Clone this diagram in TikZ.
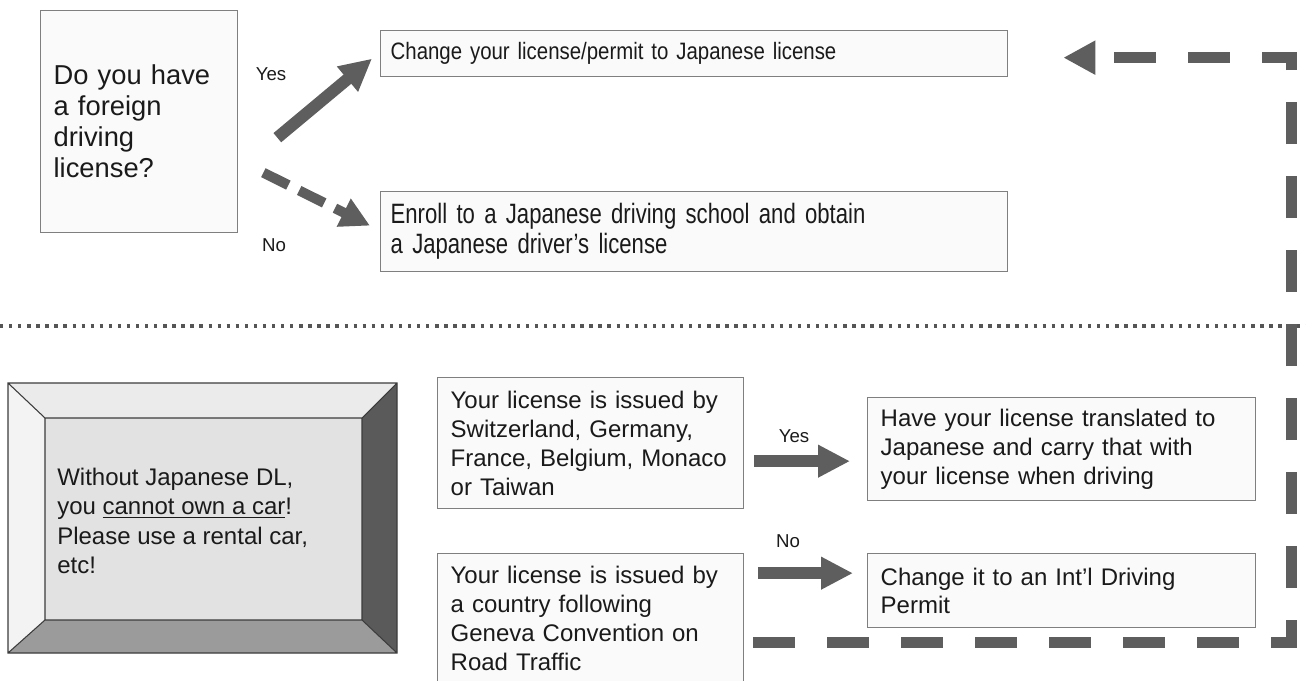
\documentclass[tikz,border=0pt]{standalone}
\usepackage{fontspec}
\setmainfont{Liberation Sans}
\newfontfamily\narrowa[FakeStretch=0.86]{Liberation Sans}
\newfontfamily\narrowb[FakeStretch=0.79]{Liberation Sans}
\usetikzlibrary{arrows.meta,calc}

\definecolor{arrowgray}{HTML}{5E5E5E}
\definecolor{boxline}{HTML}{7F7F7F}
\definecolor{boxfill}{HTML}{FAFAFA}
\definecolor{textcol}{HTML}{1A1A1A}
\definecolor{dotcol}{HTML}{555555}
\definecolor{bevtop}{HTML}{EBEBEB}
\definecolor{bevleft}{HTML}{F3F3F3}
\definecolor{bevright}{HTML}{5A5A5A}
\definecolor{bevbottom}{HTML}{9B9B9B}
\definecolor{bevface}{HTML}{E2E2E2}
\definecolor{bevline}{HTML}{3C3C3C}

\begin{document}
\begin{tikzpicture}[x=0.75pt,y=-0.75pt,
        box/.style={draw=boxline, line width=1pt, fill=boxfill,
            anchor=north west, align=left, text=textcol, inner ysep=0pt},
        lbl/.style={font=\fontsize{14}{16}\selectfont, text=textcol, inner sep=0pt},
        bigarrow/.style={draw=arrowgray, line width=9pt,
            -{Triangle[length=24pt,width=23pt]}},
        dasharrow/.style={draw=arrowgray, line width=8pt,
            dash pattern=on 31.5pt off 24pt,
            -{Triangle[length=24pt,width=24pt]}},
        smalldash/.style={draw=arrowgray, line width=7.5pt,
            dash pattern=on 21pt off 9pt,
            -{Triangle[length=22pt,width=22pt]}}]

    \useasboundingbox (0,0) rectangle (1306,681);

    % upper part
    \node[box, inner xsep=9.75pt, text width=128.25pt, minimum height=166.5pt,
        font=\fontsize{20.5}{23.25}\selectfont] (q) at (40,10)
        {Do you have\\a foreign\\driving\\license?};
    \node[box, inner xsep=7.5pt, text width=455.25pt, minimum height=34.5pt,
        font=\narrowa\fontsize{17.8}{20}\selectfont] (change) at (380,30)
        {Change your license/permit to Japanese license};
    \node[box, inner xsep=7.5pt, text width=455.25pt, minimum height=60pt,
        font=\narrowb\fontsize{21}{22.5}\selectfont] (enroll) at (380,191)
        {Enroll to a Japanese driving school and obtain\\a Japanese driver’s license};
    \node[lbl] (yes1) at (271,74) {Yes};
    \node[lbl] (no1) at (274,245) {No};

    \draw[bigarrow] ($(q.east)+(39,16)$) -- ($(change.west)+(-8,5)$);
    \draw[smalldash] ($(q.east)+(25,51)$) -- ($(enroll.west)+(-10,-6)$);

    \draw[dotcol, line width=2.5pt, dash pattern=on 2.5pt off 4.3pt]
        (0,326) -- (1306,326);

    % lower part
    \fill[bevtop] (8,383) -- (397,383) -- (362,418) -- (45,418) -- cycle;
    \fill[bevleft] (8,383) -- (45,418) -- (45,620) -- (8,653) -- cycle;
    \fill[bevright] (397,383) -- (397,653) -- (362,620) -- (362,418) -- cycle;
    \fill[bevbottom] (8,653) -- (397,653) -- (362,620) -- (45,620) -- cycle;
    \fill[bevface] (45,418) rectangle (362,620);
    \draw[bevline, line width=0.8pt] (8,383) rectangle (397,653)
        (45,418) rectangle (362,620)
        (8,383) -- (45,418) (397,383) -- (362,418)
        (8,653) -- (45,620) (397,653) -- (362,620);
    \node[anchor=west, align=left, text=textcol, inner sep=0pt,
        font=\fontsize{18}{22}\selectfont] (warn) at (57,521)
        {Without Japanese DL,\\you \underline{cannot own a car}!\\Please use a rental car,\\etc!};

    \node[box, inner xsep=9.75pt, text width=210pt, minimum height=98.25pt,
        font=\fontsize{18}{21.75}\selectfont] (y1) at (437,377)
        {Your license is issued by\\Switzerland, Germany,\\France, Belgium, Monaco\\or Taiwan};
    \node[box, inner xsep=9.75pt, text width=210pt, minimum height=96.75pt,
        font=\fontsize{18}{21.75}\selectfont] (n1) at (437,553)
        {Your license is issued by\\a country following\\Geneva Convention on\\Road Traffic};
    \node[box, inner xsep=9.75pt, text width=271.5pt, minimum height=77.25pt,
        font=\fontsize{18}{21.5}\selectfont] (tr) at (867,397)
        {Have your license translated to\\Japanese and carry that with\\your license when driving};
    \node[box, inner xsep=9.75pt, text width=271.5pt, minimum height=55.5pt,
        font=\fontsize{18}{21}\selectfont] (ip) at (867,553)
        {Change it to an Int’l Driving\\Permit};
    \node[lbl] (yes2) at (794,436) {Yes};
    \node[lbl] (no2) at (788,541) {No};

    \draw[bigarrow, shorten >=12.75pt] ($(y1.east)+(10,18)$) coordinate (a1)
        -- (a1 -| tr.west);
    \draw[bigarrow, shorten >=10.5pt] ($(n1.east)+(14,-45)$) coordinate (a2)
        -- (a2 -| ip.west);

    \draw[dasharrow] ($(n1.east)+(9,24)$) -- ++(538,0)
        |- ($(change.east)+(55,4)$);
\end{tikzpicture}
\end{document}
